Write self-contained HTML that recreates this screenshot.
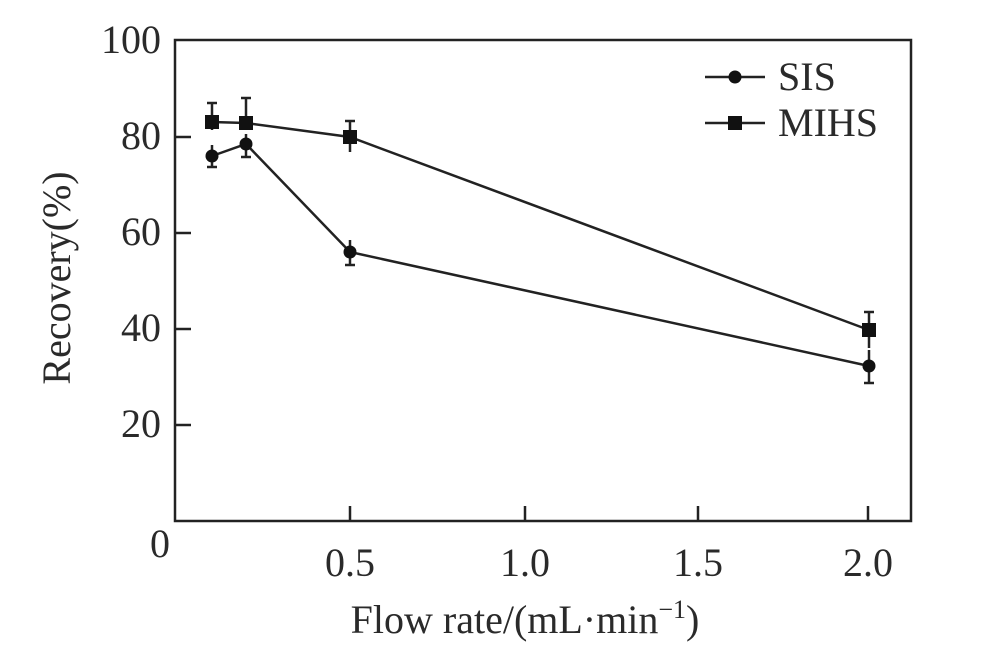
<!DOCTYPE html>
<html><head><meta charset="utf-8"><style>
html,body{margin:0;padding:0;background:#fff;}
svg{display:block;}
text{font-family:"Liberation Serif",serif;fill:#2a2a2a;}
</style></head><body>
<svg width="1000" height="666" viewBox="0 0 1000 666" xmlns="http://www.w3.org/2000/svg">
<rect x="175" y="40" width="736" height="481" fill="none" stroke="#222" stroke-width="2.5"/>
<g stroke="#222" stroke-width="2.5">
<line x1="175" y1="137" x2="191" y2="137"/>
<line x1="175" y1="233" x2="191" y2="233"/>
<line x1="175" y1="329" x2="191" y2="329"/>
<line x1="175" y1="425" x2="191" y2="425"/>
<line x1="350" y1="521" x2="350" y2="506"/>
<line x1="525" y1="521" x2="525" y2="506"/>
<line x1="698" y1="521" x2="698" y2="506"/>
<line x1="868" y1="521" x2="868" y2="506"/>
</g>
<g font-size="40" text-anchor="end">
<text x="161" y="53">100</text>
<text x="161" y="149">80</text>
<text x="161" y="245">60</text>
<text x="161" y="341">40</text>
<text x="161" y="437">20</text>
<text x="170" y="557">0</text>
</g>
<g font-size="40" text-anchor="middle">
<text x="350" y="576">0.5</text>
<text x="525" y="576">1.0</text>
<text x="698" y="576">1.5</text>
<text x="868" y="576">2.0</text>
<text x="525" y="633">Flow rate/(mL·min<tspan font-size="26" dy="-15">−1</tspan><tspan dy="15">)</tspan></text>
</g>
<text font-size="40" text-anchor="middle" transform="translate(70,278) rotate(-90)">Recovery(%)</text>
<g stroke="#222" stroke-width="2.5" fill="none">
<polyline points="212,156 246,144 350,252 869,366"/>
<polyline points="212,122 246,123 350,137 869,330"/>
<line x1="212" y1="145" x2="212" y2="167"/><line x1="207" y1="167" x2="217" y2="167"/>
<line x1="246" y1="134" x2="246" y2="157"/><line x1="241" y1="157" x2="251" y2="157"/>
<line x1="350" y1="240" x2="350" y2="265"/><line x1="345" y1="265" x2="355" y2="265"/>
<line x1="869" y1="350" x2="869" y2="383"/><line x1="864" y1="383" x2="874" y2="383"/>
<line x1="212" y1="103" x2="212" y2="130"/><line x1="207" y1="103" x2="217" y2="103"/>
<line x1="246" y1="98" x2="246" y2="130"/><line x1="241" y1="98" x2="251" y2="98"/>
<line x1="350" y1="121" x2="350" y2="152"/><line x1="345" y1="121" x2="355" y2="121"/>
<line x1="869" y1="312" x2="869" y2="348"/><line x1="864" y1="312" x2="874" y2="312"/>
</g>
<g fill="#111">
<circle cx="212" cy="156" r="6.5"/><circle cx="246" cy="144" r="6.5"/><circle cx="350" cy="252" r="6.5"/><circle cx="869" cy="366" r="6.5"/>
<rect x="205" y="115" width="14" height="14"/><rect x="239" y="116" width="14" height="14"/><rect x="343" y="130" width="14" height="14"/><rect x="862" y="323" width="14" height="14"/>
</g>
<g stroke="#222" stroke-width="2.5">
<line x1="705" y1="77" x2="765" y2="77"/>
<line x1="705" y1="123" x2="765" y2="123"/>
</g>
<circle cx="735" cy="77" r="6.5" fill="#111"/>
<rect x="728" y="116" width="14" height="14" fill="#111"/>
<text x="778" y="90" font-size="40">SIS</text>
<text x="778" y="136" font-size="40">MIHS</text>
</svg>
</body></html>
